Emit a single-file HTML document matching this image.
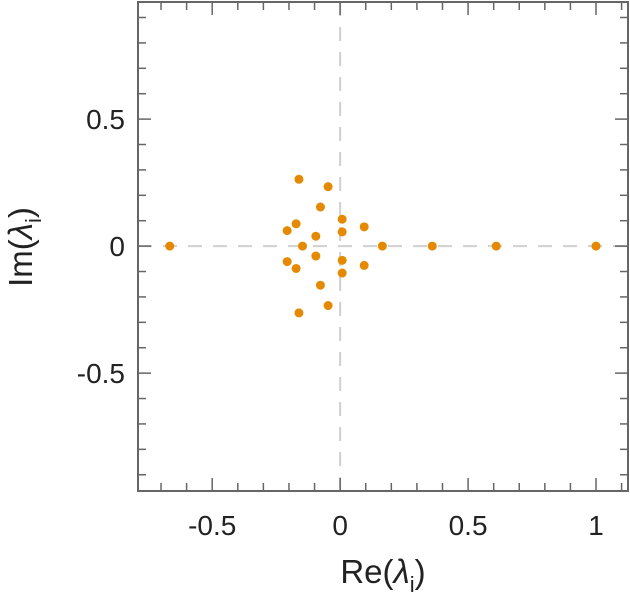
<!DOCTYPE html>
<html><head><meta charset="utf-8"><style>
body{margin:0;background:#fff}
svg text{font-family:"Liberation Sans",sans-serif;fill:#222}
</style></head><body>
<svg id="chart" width="630" height="600" xmlns="http://www.w3.org/2000/svg"></svg>
<script>
const reVals=[-0.666,-0.161,-0.047,-0.077,0.008,0.094,0.008,-0.172,-0.207,-0.095,-0.147,0.165,0.36,0.61,1.0];
const imVals=[0,0.263,0.234,0.154,0.106,0.076,0.056,0.088,0.061,0.039,0,0,0,0,0];
const xTicks=[-0.5,0,0.5,1];
const xTickLabels=["-0.5","0","0.5","1"];
const yTicks=[-0.5,0,0.5];
const yTickLabels=["-0.5","0","0.5"];
const NS="http://www.w3.org/2000/svg";
const svg=document.getElementById('chart');
const L=138,R=628,T=2,B=491;
const xMin=-0.79,xMax=1.125,yMin=-0.964,yMax=0.961;
const sx=v=>L+(v-xMin)/(xMax-xMin)*(R-L);
const sy=v=>B-(v-yMin)/(yMax-yMin)*(B-T);
function el(t,a){const e=document.createElementNS(NS,t);for(const k in a)e.setAttribute(k,a[k]);svg.appendChild(e);return e;}
let zx=el('line',{x1:sx(0),x2:sx(0),y1:T,y2:B,stroke:'#d0d0d0','stroke-width':2,'stroke-dasharray':'14,11'});


let zy=el('line',{x1:L,x2:R,y1:sy(0),y2:sy(0),stroke:'#d0d0d0','stroke-width':2,'stroke-dasharray':'14,11'});


let fr=el('rect',{x:L,y:T,width:R-L,height:B-T,fill:'none',stroke:'#666','stroke-width':2});


for(let i=-7;i<=11;i++){const v=i/10;const x=sx(v);const maj=(i%5===0);const len=maj?13:8;
 el('line',{x1:x,x2:x,y1:B,y2:B-len,stroke:'#666','stroke-width':1.5});
 el('line',{x1:x,x2:x,y1:T,y2:T+len,stroke:'#666','stroke-width':1.5});}
for(let i=-9;i<=9;i++){const v=i/10;const y=sy(v);const maj=(i%5===0);const len=maj?13:8;
 el('line',{x1:L,x2:L+len,y1:y,y2:y,stroke:'#666','stroke-width':1.5});
 el('line',{x1:R,x2:R-len,y1:y,y2:y,stroke:'#666','stroke-width':1.5});}
xTicks.forEach((v,i)=>{const t=el('text',{x:sx(v),y:535,'text-anchor':'middle','font-size':28});t.textContent=xTickLabels[i];
 
 });
yTicks.forEach((v,i)=>{const t=el('text',{x:125,y:sy(v)+10,'text-anchor':'end','font-size':28});t.textContent=yTickLabels[i];
 
 });
let xt=el('text',{x:383,y:583,'text-anchor':'middle','font-size':33});
xt.innerHTML='Re(<tspan font-style="italic">λ</tspan><tspan font-size="22" dy="9">i</tspan><tspan dy="-9">)</tspan>';


let yt=el('text',{x:0,y:0,'text-anchor':'middle','font-size':33,transform:'translate(32,247) rotate(-90)'});
yt.innerHTML='Im(<tspan font-style="italic">λ</tspan><tspan font-size="22" dy="9">i</tspan><tspan dy="-9">)</tspan>';


reVals.forEach((r,i)=>{const im=imVals[i];const ys=im===0?[0]:[im,-im];
 ys.forEach(y=>{const c=el('circle',{cx:sx(r),cy:sy(y),r:4.5,fill:'#e58a00'});
  
  });});
</script>
</body></html>
